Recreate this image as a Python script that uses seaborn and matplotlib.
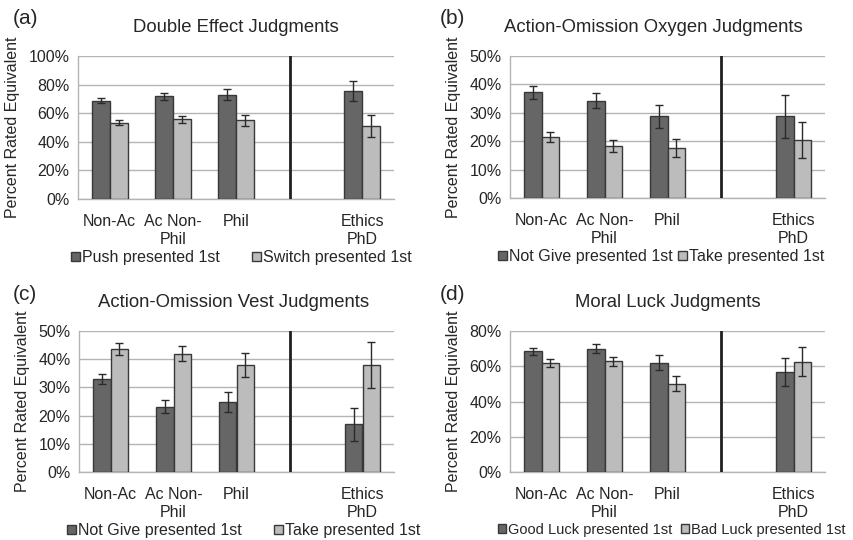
import numpy as np
import pandas as pd
import matplotlib
matplotlib.use("Agg")
import matplotlib.pyplot as plt
from matplotlib.ticker import PercentFormatter, FixedLocator, MultipleLocator
import seaborn as sns

groups = ["Non-Ac", "Ac Non-\nPhil", "Phil", " ", "Ethics\nPhD"]
data_groups = ["Non-Ac", "Ac Non-\nPhil", "Phil", "Ethics\nPhD"]

# (a) double effect
push_first = [68.6, 71.8, 73.0, 75.6]
push_err = [1.7, 2.4, 4.0, 7.0]
switch_first = [53.4, 55.6, 55.0, 50.9]
switch_err = [1.8, 2.4, 4.0, 7.5]

# (b) action-omission oxygen
oxy_notgive = [37.2, 34.3, 28.8, 28.8]
oxy_notgive_err = [2.2, 2.7, 4.0, 7.5]
oxy_take = [21.5, 18.3, 17.7, 20.3]
oxy_take_err = [1.7, 2.1, 3.2, 6.3]

# (c) action-omission vest
vest_notgive = [33.0, 23.2, 24.8, 16.9]
vest_notgive_err = [1.8, 2.3, 3.5, 5.9]
vest_take = [43.7, 42.0, 37.9, 37.9]
vest_take_err = [2.1, 2.7, 4.3, 8.1]

# (d) moral luck
good_first = [68.5, 70.0, 62.0, 56.6]
good_err = [2.0, 2.7, 4.2, 7.8]
bad_first = [61.7, 62.8, 50.1, 62.6]
bad_err = [2.2, 2.5, 4.3, 8.3]

dark = "#666666"
light = "#bcbcbc"
edge = "#383838"

sns.set_style("white")
plt.rcParams["font.family"] = ["Liberation Sans", "DejaVu Sans"]

fig = plt.figure(figsize=(8.54, 5.40), dpi=100)
W, H = 854, 540


def panel(box, letter, title, s1, v1, e1, s2, v2, e2, ymax, ystep,
          leg_x, leg_cs, leg_fs=11.5, title_x=0.5):
    l, t, r, b = box
    ax = fig.add_axes([l / W, 1 - b / H, (r - l) / W, (b - t) / H])
    df = pd.DataFrame({
        "group": data_groups * 2,
        "value": v1 + v2,
        "series": [s1] * 4 + [s2] * 4,
    })
    sns.barplot(data=df, x="group", y="value", hue="series", order=groups,
                hue_order=[s1, s2], palette=[dark, light], width=0.57, gap=0,
                edgecolor=edge, linewidth=1, errorbar=None, saturation=1,
                ax=ax, zorder=3)
    # error bars on top of the bars seaborn drew
    errs = {s1: dict(zip(data_groups, e1)), s2: dict(zip(data_groups, e2))}
    for cont, s in zip(ax.containers, [s1, s2]):
        for bar in cont:
            if np.isnan(bar.get_height()):
                continue
            xc = bar.get_x() + bar.get_width() / 2
            g = groups[int(round(xc))]
            ax.errorbar(xc, bar.get_height(), yerr=errs[s][g], color="#2a2a2a",
                        capsize=2.6, lw=1, capthick=1, zorder=4)

    ax.set_xlim(-0.5, 4.5)
    ax.set_ylim(0, ymax)
    ax.yaxis.set_major_locator(MultipleLocator(ystep))
    ax.yaxis.set_major_formatter(PercentFormatter(decimals=0))
    ax.grid(axis="y", color="#b4b4b4", lw=1, zorder=0)
    ax.set_axisbelow(True)
    for sp in ["top", "right"]:
        ax.spines[sp].set_visible(False)
    for sp in ["left", "bottom"]:
        ax.spines[sp].set_color("#b4b4b4")
        ax.spines[sp].set_linewidth(1)
    ax.tick_params(axis="x", which="major", length=0, pad=11, labelsize=11.5)
    ax.xaxis.set_minor_locator(FixedLocator(np.arange(-0.5, 5, 1)))
    ax.tick_params(axis="x", which="minor", length=4, color="#b4b4b4", direction="out")
    ax.tick_params(axis="y", length=0, pad=6, labelsize=11.5)
    ax.set_xlabel("")
    ax.set_ylabel("Percent Rated Equivalent", fontsize=11.5, labelpad=6)
    ax.axvline(2.85, color="#202020", lw=2, zorder=5)
    ax.set_title(title, fontsize=13.3, pad=17, x=title_x)

    # panel letter, upper left of the panel
    lx = 13 if l < W / 2 else 440
    ax.text((lx - l) / (r - l), (b - (t - 37)) / (b - t), letter,
            transform=ax.transAxes, fontsize=15, va="center", ha="left")

    sns.move_legend(ax, "upper left",
                    bbox_to_anchor=((leg_x - l) / (r - l), -51 / (b - t)),
                    ncol=2, frameon=False, title=None, fontsize=leg_fs,
                    handlelength=0.55, handleheight=0.55, handletextpad=0.15,
                    columnspacing=leg_cs, borderaxespad=0, borderpad=0)
    return ax


panel((78, 56, 394, 199), "(a)", "Double Effect Judgments",
      "Push presented 1st", push_first, push_err,
      "Switch presented 1st", switch_first, switch_err, 100, 20, 71, 2.0)
panel((510, 56, 825, 198), "(b)", "Action-Omission Oxygen Judgments",
      "Not Give presented 1st", oxy_notgive, oxy_notgive_err,
      "Take presented 1st", oxy_take, oxy_take_err, 50, 10, 498, 0.3,
      title_x=0.455)
panel((79, 331, 394, 472), "(c)", "Action-Omission Vest Judgments",
      "Not Give presented 1st", vest_notgive, vest_notgive_err,
      "Take presented 1st", vest_take, vest_take_err, 50, 10, 67, 2.0,
      title_x=0.49)
panel((510, 331, 825, 472), "(d)", "Moral Luck Judgments",
      "Good Luck presented 1st", good_first, good_err,
      "Bad Luck presented 1st", bad_first, bad_err, 80, 20, 498, 0.6,
      leg_fs=10.5)

fig.savefig("out.png", dpi=100)
